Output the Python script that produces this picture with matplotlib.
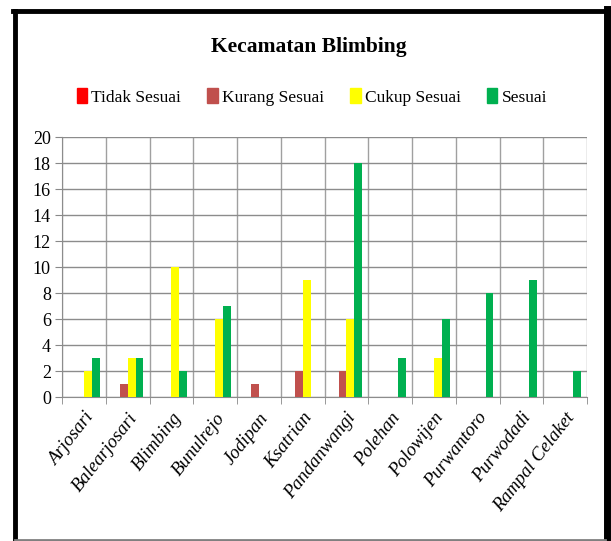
import matplotlib
matplotlib.use("Agg")
import matplotlib.pyplot as plt
from matplotlib.lines import Line2D
import numpy as np

categories = ["Arjosari", "Balearjosari", "Blimbing", "Bunulrejo", "Jodipan", "Ksatrian",
              "Pandanwangi", "Polehan", "Polowijen", "Purwantoro", "Purwodadi", "Rampal Celaket"]
series_names = ["Tidak Sesuai", "Kurang Sesuai", "Cukup Sesuai", "Sesuai"]
tidak_sesuai = [0, 0, 0, 0, 0, 0, 0, 0, 0, 0, 0, 0]
kurang_sesuai = [0, 1, 0, 0, 1, 2, 2, 0, 0, 0, 0, 0]
cukup_sesuai = [2, 3, 10, 6, 0, 9, 6, 0, 3, 0, 0, 0]
sesuai = [3, 3, 2, 7, 0, 0, 18, 3, 6, 8, 9, 2]
y_ticks = list(range(0, 21, 2))

colors = ["#FF0000", "#C0504D", "#FFFF00", "#00B050"]
serif = ["Liberation Serif", "DejaVu Serif"]

W, H = 611, 541
fig = plt.figure(figsize=(W / 100, H / 100), dpi=100)
ax = fig.add_axes([62 / W, (H - 397) / H, (587 - 62) / W, (397 - 137) / H])

x = np.arange(len(categories))
bw = 0.18
data = [tidak_sesuai, kurang_sesuai, cukup_sesuai, sesuai]
for i, (vals, c, name) in enumerate(zip(data, colors, series_names)):
    ax.bar(x + (i - 1.5) * bw, vals, width=bw, color=c, label=name, zorder=3)

ax.set_xlim(-0.5, len(categories) - 0.5)
ax.set_ylim(0, 20)
ax.set_yticks(y_ticks)
ax.set_yticklabels([str(v) for v in y_ticks], fontfamily=serif, fontsize=13)
ax.set_xticks(x)
ax.set_xticklabels(categories, rotation=52, ha="right", rotation_mode="anchor",
                   fontfamily=serif, fontsize=13.5, style="italic")
ax.tick_params(axis="x", which="major", length=0, pad=9)
ax.set_xticks(np.arange(-0.5, len(categories), 1), minor=True)
ax.tick_params(axis="x", which="minor", length=5, color="#888888")
ax.tick_params(axis="y", length=5, color="#888888", pad=3)
ax.grid(axis="y", which="major", color="#8c8c8c", lw=1, zorder=0)
ax.grid(axis="x", which="minor", color="#a0a0a0", lw=1, zorder=0)
for s in ["top", "right"]:
    ax.spines[s].set_visible(False)
for s in ["left", "bottom"]:
    ax.spines[s].set_color("#8c8c8c")

fig.text(309 / W, 1 - 47 / H, "Kecamatan Blimbing", ha="center", va="center",
         fontfamily=serif, fontweight="bold", fontsize=15.5)

handles = [plt.Rectangle((0, 0), 1, 1, color=c) for c in colors]
fig.legend(handles, series_names, loc="center", bbox_to_anchor=(312 / W, 1 - 97 / H),
           ncol=4, frameon=False, prop={"family": serif, "size": 12.5},
           handlelength=0.6, handleheight=0.9, handletextpad=0.25, columnspacing=1.5)

# outer frame
fig.add_artist(Line2D([15 / W, 15 / W], [1 - 11 / H, 1 - 540 / H], color="black", lw=3.5))
fig.add_artist(Line2D([13 / W, 607 / W], [1 - 11 / H, 1 - 11 / H], color="black", lw=3.5))
fig.add_artist(Line2D([607 / W, 607 / W], [1 - 9 / H, 1 - 540 / H], color="black", lw=5))
fig.add_artist(Line2D([15 / W, 605 / W], [1 - 539.5 / H, 1 - 539.5 / H], color="#808080", lw=2))

fig.savefig("out.png", dpi=100)
